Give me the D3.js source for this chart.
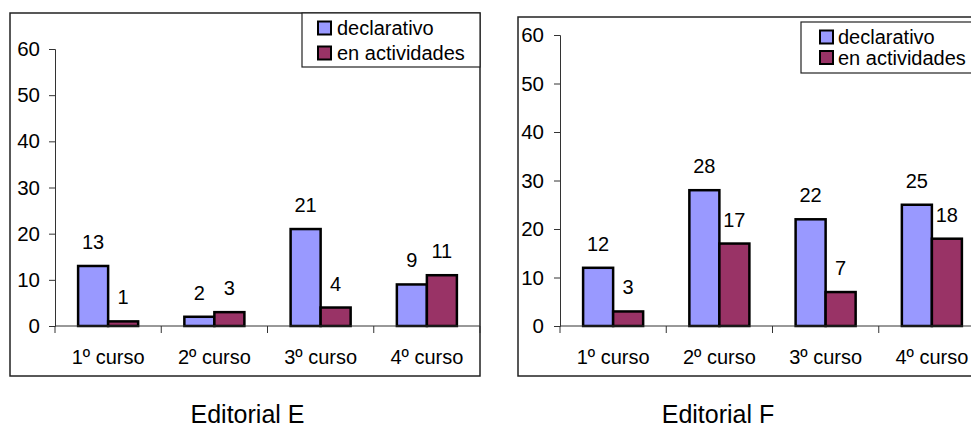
<!DOCTYPE html>
<html><head><meta charset="utf-8">
<script src="https://cdn.jsdelivr.net/npm/d3@7"></script>
<style>body{margin:0;background:#fff}svg{display:block}text{font-family:Arial,"Liberation Sans",sans-serif;fill:#000}</style>
</head><body><svg id="c" width="971" height="427"></svg>
<script>
const categories = ["1º curso","2º curso","3º curso","4º curso"];
const seriesNames = ["declarativo","en actividades"];
const editorialE_declarativo = [13,2,21,9];
const editorialE_actividades = [1,3,4,11];
const editorialF_declarativo = [12,28,22,25];
const editorialF_actividades = [3,17,7,18];
const yTicks = [0,10,20,30,40,50,60];
const titles = ["Editorial E","Editorial F"];
const colors = ["#9999FF","#993366"];

const svg = d3.select("#c");

function drawChart(cfg){
  const g = svg.append("g");
  g.append("rect").attr("x",cfg.frame[0]).attr("y",cfg.frame[1]).attr("width",cfg.frame[2]).attr("height",cfg.frame[3])
    .attr("fill","none").attr("stroke","#222").attr("stroke-width",1.5);
  const y = d3.scaleLinear().domain([0,60]).range([cfg.y0, cfg.y60]);
  const x0 = d3.scaleBand().domain(categories).range([cfg.xa, cfg.xb]).paddingInner(0).paddingOuter(0);
  const x1 = d3.scaleBand().domain(seriesNames).range([0, x0.bandwidth()]).paddingInner(0).paddingOuter(0.77);
  const ya = d3.axisLeft(y).tickValues(yTicks).tickSize(6).tickPadding(cfg.tp);
  const yg = g.append("g").attr("transform",`translate(${cfg.xa},0)`).call(ya);
  yg.select(".domain").attr("stroke","#333");
  yg.selectAll(".tick line").attr("stroke","#333");
  yg.selectAll("text").style("font-size","20.5px").attr("fill","#000");
  const data = categories.map((c,i)=>({c, vals:[cfg.d[i], cfg.a[i]]}));
  const grp = g.selectAll(".grp").data(data).join("g").attr("transform",d=>`translate(${x0(d.c)},0)`);
  grp.selectAll("rect").data(d=>d.vals.map((v,k)=>({s:seriesNames[k],v,k}))).join("rect")
    .attr("x",d=>x1(d.s)).attr("width",x1.bandwidth())
    .attr("y",d=>y(d.v)).attr("height",d=>y(0)-y(d.v))
    .attr("fill",d=>colors[d.k]).attr("stroke","#000").attr("stroke-width",2.5);
  grp.selectAll("text.lbl").data(d=>d.vals.map((v,k)=>({s:seriesNames[k],v,k}))).join("text").attr("class","lbl")
    .attr("x",d=>x1(d.s)+x1.bandwidth()/2).attr("y",d=>y(d.v)-17)
    .attr("text-anchor","middle").style("font-size","20px").text(d=>d.v);
  g.append("line").attr("x1",cfg.xa).attr("x2",cfg.xb).attr("y1",y(0)).attr("y2",y(0)).attr("stroke","#333");
  const bounds = categories.map(c=>x0(c)).concat([cfg.xb]);
  g.selectAll(".xt").data(bounds).join("line").attr("x1",d=>d).attr("x2",d=>d).attr("y1",y(0)).attr("y2",y(0)+7).attr("stroke","#333");
  g.selectAll(".xl").data(categories).join("text").attr("x",d=>x0(d)+x0.bandwidth()/2).attr("y",y(0)+38)
    .attr("text-anchor","middle").style("font-size","20px").text(d=>d);
  const L = cfg.leg;
  g.append("rect").attr("x",L.x).attr("y",L.y).attr("width",L.w).attr("height",L.h).attr("fill","#fff").attr("stroke","#222").attr("stroke-width",1.2);
  seriesNames.forEach((s,k)=>{
    const cy = L.r0 + k*L.dy;
    g.append("rect").attr("x",L.sx).attr("y",cy-6.5).attr("width",13).attr("height",13).attr("fill",colors[k]).attr("stroke","#000").attr("stroke-width",2);
    g.append("text").attr("x",L.tx).attr("y",cy+7).style("font-size","20px").text(s);
  });
  svg.append("text").attr("x",cfg.titleX).attr("y",423).attr("text-anchor","middle").style("font-size","25px").text(cfg.title);
}

drawChart({frame:[10,13,470,363], xa:55, xb:480, y0:326, y60:49, tp:9,
  d:editorialE_declarativo, a:editorialE_actividades,
  leg:{x:302,y:13,w:178,h:54,sx:318,tx:337,r0:28,dy:25}, title:titles[0], titleX:247.5});
drawChart({frame:[518,17,470,359], xa:560, xb:985, y0:326, y60:35, tp:10,
  d:editorialF_declarativo, a:editorialF_actividades,
  leg:{x:801,y:22,w:180,h:51,sx:820,tx:838,r0:37,dy:20.5}, title:titles[1], titleX:718});
</script></body></html>
